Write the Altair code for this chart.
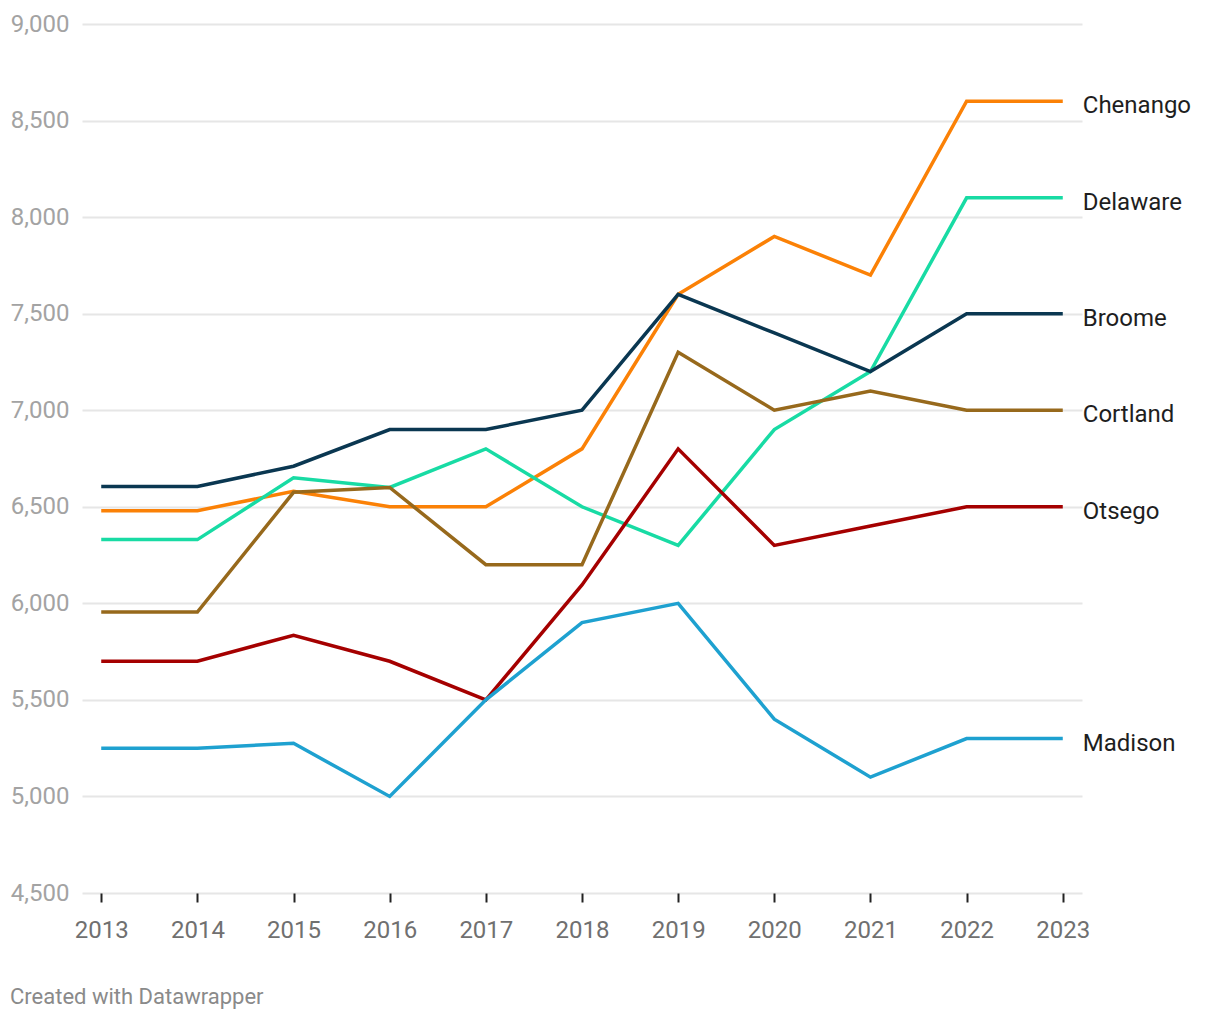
import altair as alt
import pandas as pd

years = list(range(2013, 2024))
series_names = ["Chenango", "Delaware", "Cortland", "Broome", "Otsego", "Madison"]
chenango = [6480, 6480, 6580, 6500, 6500, 6800, 7600, 7900, 7700, 8600, 8600]
delaware = [6330, 6330, 6650, 6600, 6800, 6500, 6300, 6900, 7200, 8100, 8100]
cortland = [5955, 5955, 6575, 6600, 6200, 6200, 7300, 7000, 7100, 7000, 7000]
broome = [6605, 6605, 6710, 6900, 6900, 7000, 7600, 7400, 7200, 7500, 7500]
otsego = [5700, 5700, 5835, 5700, 5500, 6095, 6800, 6300, 6400, 6500, 6500]
madison = [5250, 5250, 5275, 5000, 5500, 5900, 6000, 5400, 5100, 5300, 5300]
colors = ["#fb8106", "#18dba4", "#97691c", "#0a3751", "#a50000", "#1ea1d0"]
y_ticks = [4500, 5000, 5500, 6000, 6500, 7000, 7500, 8000, 8500, 9000]
footer_text = "Created with Datawrapper"

values = [chenango, delaware, cortland, broome, otsego, madison]
rows = []
for name, vals in zip(series_names, values):
    for yr, v in zip(years, vals):
        rows.append({"county": name, "year": yr, "value": v})
df = pd.DataFrame(rows)
last = df[df["year"] == years[-1]]

FONT = "Roboto"
x_scale = alt.Scale(domain=[2012.8, 2023.2], nice=False, zero=False)
y_scale = alt.Scale(domain=[4500, 9000], nice=False, zero=False)

x_axis = alt.Axis(
    values=years, format="d", title=None, grid=False, domain=False,
    ticks=True, tickColor="#222222", tickWidth=2, tickSize=9,
    labelColor="#707070", labelFontSize=24, labelPadding=16,
    labelFont=FONT, labelFlush=False,
)
y_axis = alt.Axis(
    values=y_ticks, format=",.0f", title=None, grid=True,
    gridColor="#e6e6e6", gridWidth=2, domain=False, ticks=False,
    labelColor="#a3a3a3", labelFontSize=24, labelPadding=13,
    labelFont=FONT, labelAlign="right", labelBaseline="middle",
)
x_enc = alt.X("year:Q", scale=x_scale, axis=x_axis)
y_enc = alt.Y("value:Q", scale=y_scale, axis=y_axis)
color_enc = alt.Color(
    "county:N",
    scale=alt.Scale(domain=series_names, range=colors),
    legend=None,
)

lines = alt.Chart(df).mark_line(strokeWidth=3.5, strokeJoin="miter").encode(
    x=x_enc, y=y_enc, color=color_enc,
)

labels = alt.Chart(last).mark_text(
    align="left", baseline="middle", dx=20, dy=5,
    font=FONT, fontSize=24, color="#1e1e1e",
).encode(
    x=x_enc, y=y_enc, text="county:N",
)

footer = alt.Chart(pd.DataFrame({"t": [footer_text]})).mark_text(
    align="left", baseline="middle", font=FONT, fontSize=22, color="#8a8a8a",
).encode(
    x=alt.value(-72), y=alt.value(973), text="t:N",
)

chart = alt.layer(lines, labels, footer).properties(
    width=1000, height=869,
    autosize=alt.AutoSizeParams(type="none"),
    padding={"left": 82, "top": 24, "right": 138, "bottom": 127},
    background="white",
).configure_view(stroke=None)

chart.save("out.html", embed_options={"renderer": "svg", "actions": False})
